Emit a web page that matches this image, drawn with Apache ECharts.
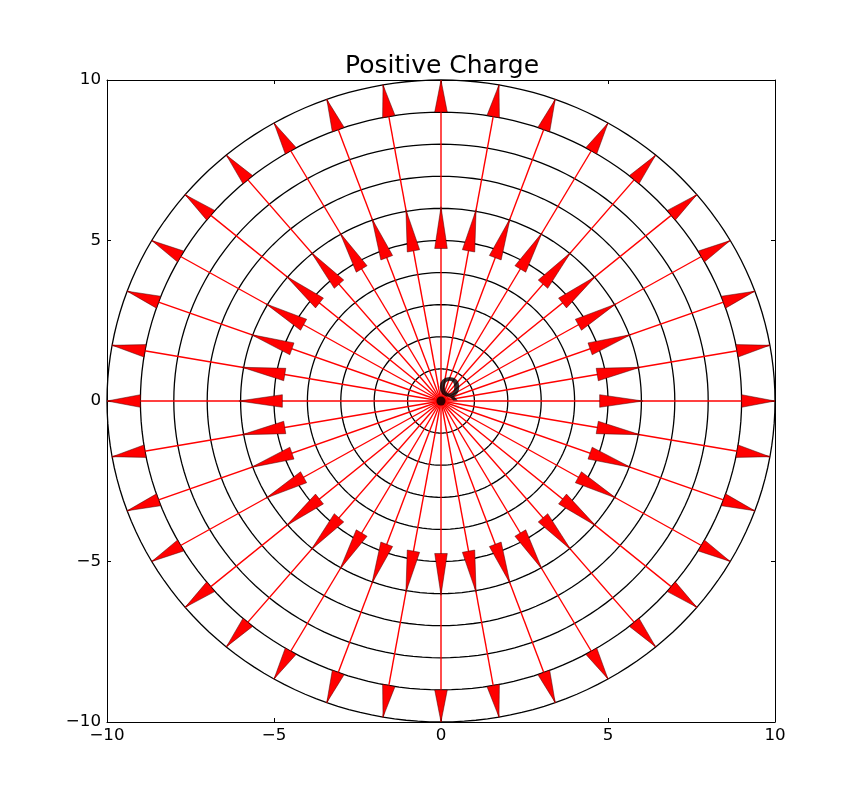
<!DOCTYPE html>
<html><head><meta charset="utf-8">
<script src="https://cdn.jsdelivr.net/npm/echarts@6/dist/echarts.min.js"></script>
<style>html,body{margin:0;padding:0;background:#fff}#c{width:862px;height:803px}</style>
</head><body><div id="c"></div>
<script>
// ---- data ----
const fieldAnglesDeg = [0,10,20,30,40,50,60,70,80,90,100,110,120,130,140,150,160,170,
  180,190,200,210,220,230,240,250,260,270,280,290,300,310,320,330,340,350];
const circleRadii = [1,2,3,4,5,6,7,8,9,10];
const fieldLineLength = 10;
const arrowTailRadii = [4.75, 9.0];
const arrowTipRadii = [6.05, 10.0];
const tickValues = [-10,-5,0,5,10];
const tickLabels = ['\u221210','\u22125','0','5','10'];
const chargePosition = [0, 0];
const chargeLabel = 'Q';
const titleText = 'Positive Charge';

// ---- build ----
const FONT = 'DejaVu Sans';
const rad = d => d * Math.PI / 180;
const lbl = v => { const i = tickValues.indexOf(v); return i >= 0 ? tickLabels[i] : ''; };

const arrowData = [];
fieldAnglesDeg.forEach(a => {
  arrowTailRadii.forEach((t, i) => arrowData.push([a, t, arrowTipRadii[i]]));
});

const chart = echarts.init(document.getElementById('c'), null, {renderer: 'canvas'});

const baseAxis = {
  type: 'value', min: -10, max: 10, interval: 5,
  axisLine: {show: true, onZero: false, lineStyle: {color: '#000', width: 1}},
  axisTick: {show: true, inside: true, length: 4, lineStyle: {color: '#000', width: 1}},
  splitLine: {show: false}
};

chart.setOption({
  animation: false,
  backgroundColor: '#fff',
  title: {
    text: titleText, left: 437, top: 49, textAlign: 'center',
    textStyle: {fontFamily: FONT, fontSize: 25, fontWeight: 'normal', color: '#000'}
  },
  grid: {left: 107, top: 80, width: 668, height: 642, show: false},
  xAxis: [
    Object.assign({}, baseAxis, {position: 'bottom',
      axisLabel: {show: true, margin: 5, color: '#000', fontFamily: FONT, fontSize: 16.7,
        formatter: lbl, showMinLabel: true, showMaxLabel: true}}),
    Object.assign({}, baseAxis, {position: 'top', axisLabel: {show: false}})
  ],
  yAxis: [
    Object.assign({}, baseAxis, {position: 'left',
      axisLabel: {show: true, margin: 6, color: '#000', fontFamily: FONT, fontSize: 16.7,
        formatter: lbl, showMinLabel: true, showMaxLabel: true}}),
    Object.assign({}, baseAxis, {position: 'right', axisLabel: {show: false}})
  ],
  series: [
    {
      type: 'custom', z: 1, clip: false,
      data: circleRadii.map(r => [r]),
      renderItem: (params, api) => {
        const r = api.value(0);
        const pts = [];
        for (let k = 0; k <= 360; k += 2) {
          pts.push(api.coord([chargePosition[0] + r * Math.cos(rad(k)), chargePosition[1] + r * Math.sin(rad(k))]));
        }
        return {type: 'polyline', shape: {points: pts}, style: {fill: null, stroke: '#000', lineWidth: 1.3}};
      }
    },
    {
      type: 'custom', z: 2, clip: false,
      data: fieldAnglesDeg.map(a => [a]),
      renderItem: (params, api) => {
        const a = rad(api.value(0));
        const p0 = api.coord(chargePosition);
        const p1 = api.coord([chargePosition[0] + fieldLineLength * Math.cos(a), chargePosition[1] + fieldLineLength * Math.sin(a)]);
        return {type: 'line', shape: {x1: p0[0], y1: p0[1], x2: p1[0], y2: p1[1]},
          style: {stroke: '#ff0000', lineWidth: 1.4}};
      }
    },
    {
      type: 'custom', z: 3, clip: false,
      data: arrowData,
      renderItem: (params, api) => {
        const a = rad(api.value(0)), t = api.value(1), h = api.value(2);
        const pt = api.coord([t * Math.cos(a), t * Math.sin(a)]);
        const ph = api.coord([h * Math.cos(a), h * Math.sin(a)]);
        const dx = ph[0] - pt[0], dy = ph[1] - pt[1];
        const L = Math.sqrt(dx * dx + dy * dy);
        const nx = -dy / L, ny = dx / L, hw = 6.3;
        const pts = [
          [pt[0] + nx * hw, pt[1] + ny * hw],
          ph,
          [pt[0] - nx * hw, pt[1] - ny * hw]
        ];
        return {type: 'polygon', shape: {points: pts},
          style: {fill: '#ff0000', stroke: 'rgba(60,0,0,0.8)', lineWidth: 0.6}};
      }
    },
    {
      type: 'scatter', z: 4, data: [chargePosition], symbol: 'circle', symbolSize: 9,
      itemStyle: {color: '#000'}, silent: true,
      label: {show: true, position: [2, -19], formatter: chargeLabel,
        fontFamily: FONT, fontWeight: 'bold', fontSize: 26, color: '#000'}
    }
  ]
});
</script></body></html>
